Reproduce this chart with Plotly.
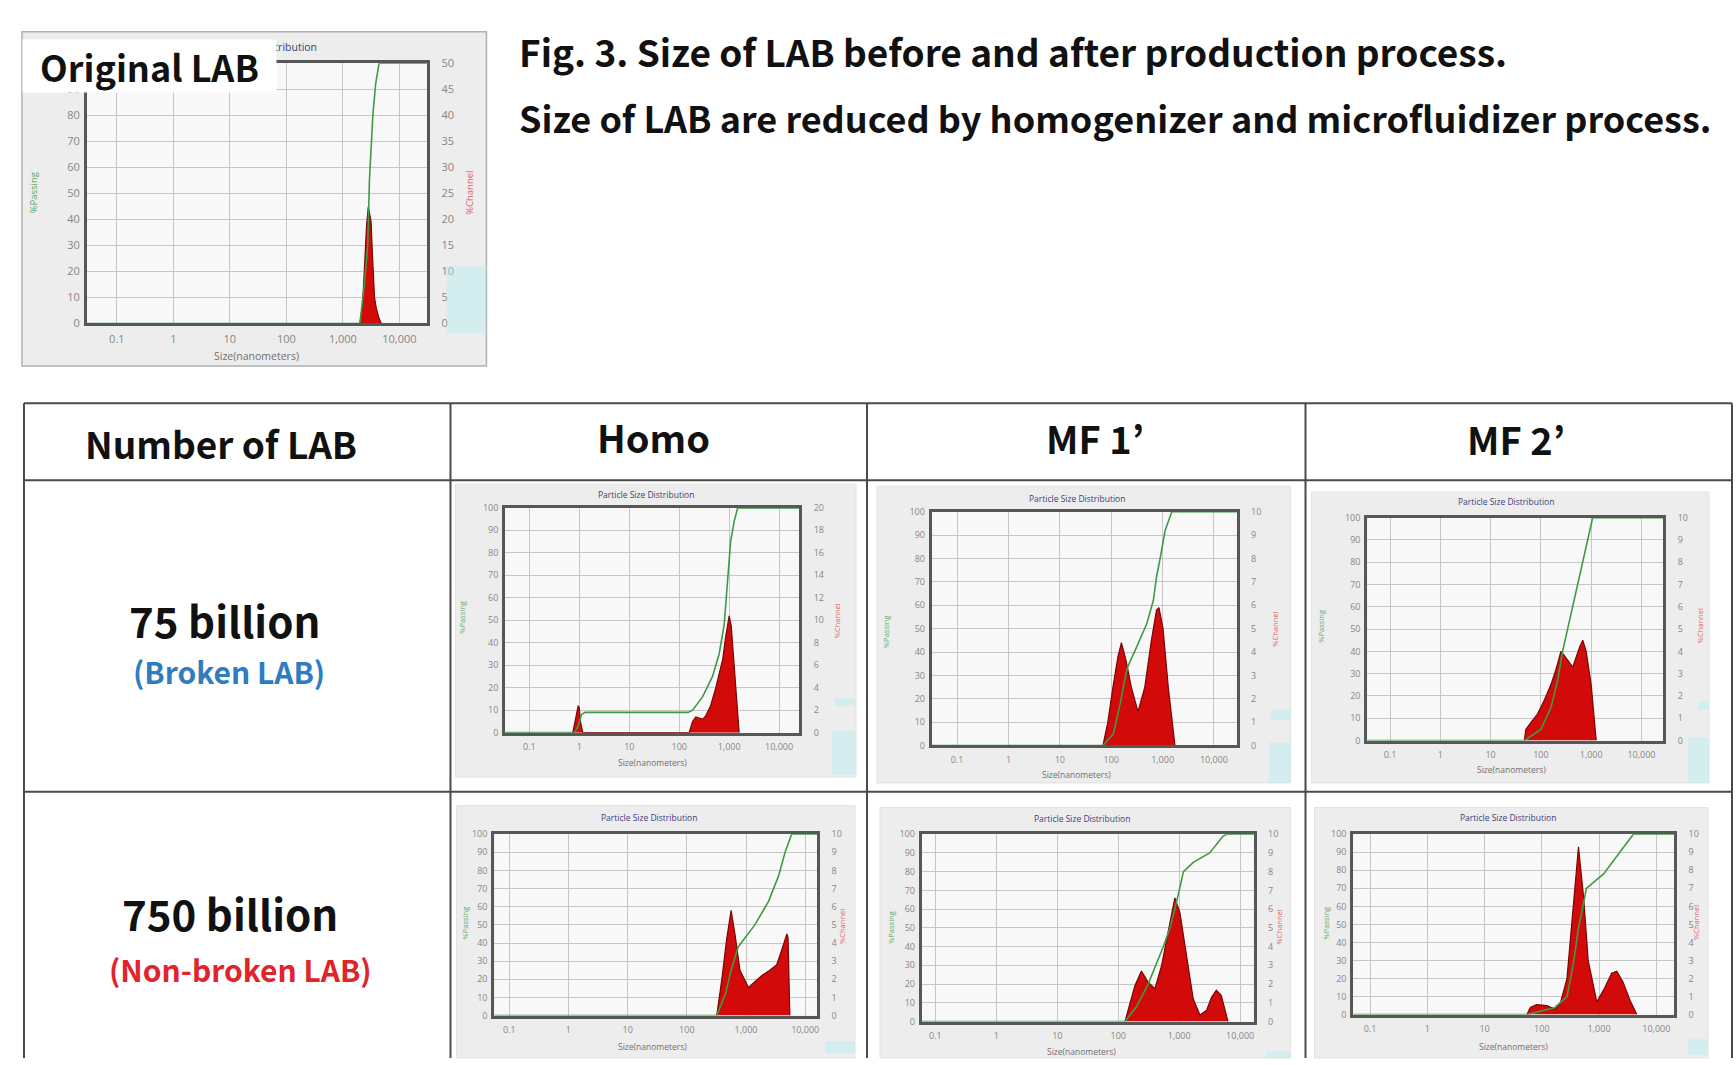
import plotly.graph_objects as go

W, H = 1736, 1065

# ---------------- data ----------------
x_tick_vals = [0.1, 1, 10, 100, 1000, 10000]
x_tick_text = ["0.1", "1", "10", "100", "1,000", "10,000"]
pass_ticks = [0, 10, 20, 30, 40, 50, 60, 70, 80, 90, 100]
chan_ticks_50 = [0, 5, 10, 15, 20, 25, 30, 35, 40, 45, 50]
chan_ticks_20 = [0, 2, 4, 6, 8, 10, 12, 14, 16, 18, 20]
chan_ticks_10 = [0, 1, 2, 3, 4, 5, 6, 7, 8, 9, 10]

col_headers = ["Homo", "MF 1’", "MF 2’"]
row_counts = ["75 billion", "750 billion"]
row_notes = ["(Broken LAB)", "(Non-broken LAB)"]

# Original LAB
orig_chan_nm = [1995, 2190, 2290, 2500, 2630, 2820, 2950, 3160, 3310, 3470, 3630, 3890, 4370, 4790]
orig_chan_pct = [0, 3, 6, 15, 19, 22.4, 21, 19.5, 14, 10, 5, 3, 1, 0]
orig_pass_nm = [0.02, 2000, 2400, 2750, 2950, 3390, 3800, 4370, 50000]
orig_pass_pct = [0, 0, 15, 30, 55, 80, 92, 100, 100]

# 75 billion - Homo
h75_chan_nm = [0.74, 0.85, 0.95, 1.0, 1.05, 1.17, 158, 185, 215, 250, 295, 340, 425, 540, 630, 740, 850, 1000, 1100, 1260, 1410, 1585]
h75_chan_pct = [0, 1.2, 2.4, 2.2, 1.0, 0, 0, 1.0, 1.4, 1.3, 1.2, 1.5, 2.4, 4.0, 5.2, 6.5, 8.5, 10.4, 9.5, 6.0, 3.0, 0]
h75_pass_nm = [0.02, 0.8, 0.95, 1.1, 1.3, 150, 185, 295, 465, 630, 795, 930, 1070, 1260, 1480, 50000]
h75_pass_pct = [0, 0, 3, 8, 9, 9, 10, 16, 25, 35, 48, 66, 85, 94, 100, 100]

# 75 billion - MF 1'
m175_chan_nm = [69, 86, 108, 135, 158, 196, 246, 332, 450, 605, 760, 850, 1020, 1290, 1740]
m175_chan_pct = [0, 1.0, 2.5, 3.8, 4.4, 3.6, 2.5, 1.45, 2.5, 4.5, 5.8, 5.9, 5.0, 2.5, 0]
m175_pass_nm = [0.02, 69, 110, 150, 190, 213, 310, 490, 660, 760, 930, 1120, 1510, 50000]
m175_pass_pct = [0, 0, 5, 18, 30, 34, 42, 52, 62, 72, 82, 92, 100, 100]

# 75 billion - MF 2'
m275_chan_nm = [47, 50, 63, 86, 116, 158, 200, 250, 295, 430, 590, 680, 795, 1000, 1260]
m275_chan_pct = [0, 0.5, 0.8, 1.2, 1.8, 2.5, 3.2, 4.0, 3.8, 3.3, 4.2, 4.5, 4.0, 2.5, 0]
m275_pass_nm = [0.02, 47, 100, 160, 220, 270, 1070, 50000]
m275_pass_pct = [0, 0, 5, 15, 28, 40, 100, 100]

# 750 billion - Homo
h750_chan_nm = [320, 390, 470, 560, 650, 790, 1100, 1420, 1830, 2520, 3300, 4000, 4900, 5130, 5500]
h750_chan_pct = [0, 2.0, 4.2, 5.8, 4.5, 2.5, 1.55, 1.9, 2.2, 2.5, 2.8, 3.6, 4.5, 4.3, 0]
h750_pass_nm = [0.02, 320, 450, 560, 740, 1410, 2400, 3550, 4570, 5890, 50000]
h750_pass_pct = [0, 0, 12, 25, 38, 50, 63, 77, 90, 100, 100]

# 750 billion - MF 1'
m1750_chan_nm = [129, 155, 187, 240, 310, 400, 515, 660, 850, 1030, 1320, 1700, 2190, 2820, 3390, 4070, 4900, 6310]
m1750_chan_pct = [0, 1.0, 1.9, 2.7, 2.1, 1.75, 3.0, 4.8, 6.6, 5.8, 3.5, 1.2, 0.35, 0.6, 1.3, 1.67, 1.4, 0]
m1750_pass_nm = [0.02, 129, 200, 310, 550, 710, 955, 1175, 1700, 3160, 5250, 6030, 50000]
m1750_pass_pct = [0, 0, 8, 20, 40, 50, 67, 80, 85, 90, 99, 100, 100]

# 750 billion - MF 2'
m2750_chan_nm = [55, 63, 81, 123, 170, 209, 275, 355, 437, 537, 646, 912, 1260, 1660, 2040, 2630, 3470, 4570]
m2750_chan_pct = [0, 0.4, 0.55, 0.5, 0.3, 0.6, 2.0, 6.0, 9.3, 6.5, 3.0, 0.7, 1.5, 2.3, 2.4, 1.8, 0.8, 0]
m2750_pass_nm = [0.02, 55, 170, 275, 355, 437, 537, 600, 1200, 1780, 3020, 3980, 50000]
m2750_pass_pct = [0, 0, 4, 10, 28, 48, 62, 70, 78, 85, 95, 100, 100]

# ---------------- layout helpers ----------------
def fx(px):
    return px / W

def fy(py):
    return 1 - py / H

charts = [
    dict(cn=orig_chan_nm, cp=orig_chan_pct, pn=orig_pass_nm, pp=orig_pass_pct,
         rmax=50, rt=chan_ticks_50, frame=(87, 56, 427, 320), xr=(-1.53, 4.48),
         panel=(22, 24, 487, 363), title=(258, 40), xt=(257, 353), yl=(33, 187), yr=(470, 187), fs=11),
    dict(cn=h75_chan_nm, cp=h75_chan_pct, pn=h75_pass_nm, pp=h75_pass_pct,
         rmax=20, rt=chan_ticks_20, frame=(506, 507, 800, 735), xr=(-1.48, 4.4),
         panel=(456, 483, 857, 780), title=(647, 493), xt=(653, 765), yl=(463, 618), yr=(838, 622), fs=9),
    dict(cn=m175_chan_nm, cp=m175_chan_pct, pn=m175_pass_nm, pp=m175_pass_pct,
         rmax=10, rt=chan_ticks_10, frame=(933, 511, 1238, 748), xr=(-1.49, 4.44),
         panel=(878, 485, 1292, 786), title=(1078, 497), xt=(1078, 777), yl=(887, 632), yr=(1277, 630), fs=9),
    dict(cn=m275_chan_nm, cp=m275_chan_pct, pn=m275_pass_nm, pp=m275_pass_pct,
         rmax=10, rt=chan_ticks_10, frame=(1369, 517, 1665, 743), xr=(-1.45, 4.43),
         panel=(1313, 491, 1711, 786), title=(1508, 501), xt=(1513, 772), yl=(1323, 627), yr=(1702, 627), fs=9),
    dict(cn=h750_chan_nm, cp=h750_chan_pct, pn=h750_pass_nm, pp=h750_pass_pct,
         rmax=10, rt=chan_ticks_10, frame=(495, 838, 818, 1022), xr=(-1.25, 4.2),
         panel=(457, 809, 856, 1065), title=(650, 821), xt=(653, 1053), yl=(465, 928), yr=(843, 932), fs=9),
    dict(cn=m1750_chan_nm, cp=m1750_chan_pct, pn=m1750_pass_nm, pp=m1750_pass_pct,
         rmax=10, rt=chan_ticks_10, frame=(923, 838, 1255, 1028), xr=(-1.22, 4.22),
         panel=(881, 811, 1292, 1065), title=(1083, 822), xt=(1083, 1058), yl=(892, 932), yr=(1280, 932), fs=9),
    dict(cn=m2750_chan_nm, cp=m2750_chan_pct, pn=m2750_pass_nm, pp=m2750_pass_pct,
         rmax=10, rt=chan_ticks_10, frame=(1355, 838, 1676, 1021), xr=(-1.29, 4.31),
         panel=(1316, 811, 1710, 1065), title=(1510, 821), xt=(1515, 1053), yl=(1327, 928), yr=(1698, 928), fs=9),
]

fig = go.Figure()
layout = dict(
    width=W, height=H, margin=dict(l=0, r=0, t=0, b=0),
    paper_bgcolor="white", plot_bgcolor="rgba(0,0,0,0)", showlegend=False,
)
shapes = []
annotations = []

FRAME = "#575757"
GRID = "#c6c6c6"
TICKC = "#868686"
TFONT = "Open Sans"


def ann(text, x, y, size, color, family, **kw):
    d = dict(text=text, x=fx(x), y=fy(y), xref="paper", yref="paper", showarrow=False,
             xanchor="center", yanchor="middle", font=dict(family=family, size=size, color=color))
    d.update(kw)
    annotations.append(d)


for i, c in enumerate(charts, start=1):
    x0, y0, x1, y1 = c["frame"]
    px0, py0, px1, py1 = c["panel"]
    xa = "x" if i == 1 else f"x{i}"
    yb_id = 2 * i - 1
    yo_id = 2 * i
    yb = "y" if yb_id == 1 else f"y{yb_id}"
    yo = f"y{yo_id}"
    # chart canvas and plot area backgrounds
    shapes.append(dict(type="rect", xref="paper", yref="paper", layer="below",
                       x0=fx(px0), x1=fx(px1), y0=fy(py1), y1=fy(py0),
                       fillcolor="#ededed",
                       line=dict(color="#b0b0b0" if i == 1 else "#e2e2e2", width=1.5 if i == 1 else 1)))
    shapes.append(dict(type="rect", xref="paper", yref="paper", layer="below",
                       x0=fx(x0), x1=fx(x1), y0=fy(y1), y1=fy(y0),
                       fillcolor="#f8f8f8", line=dict(width=0)))
    # red channel histogram (base axis, right side)
    fig.add_trace(go.Scatter(x=c["cn"], y=c["cp"], mode="lines", fill="tozeroy",
                             fillcolor="#d20a0a", line=dict(color="#7a0505", width=1.2),
                             xaxis=xa, yaxis=yb, hoverinfo="skip"))
    # green cumulative passing curve (overlay axis, left side)
    fig.add_trace(go.Scatter(x=c["pn"], y=c["pp"], mode="lines",
                             line=dict(color="#3f9a45", width=1.6),
                             xaxis=xa, yaxis=yo, hoverinfo="skip"))
    tf = dict(family=TFONT, size=c["fs"], color=TICKC)
    layout["xaxis" if i == 1 else f"xaxis{i}"] = dict(
        domain=[fx(x0), fx(x1)], type="log", range=list(c["xr"]), anchor=yb,
        tickvals=x_tick_vals, ticktext=x_tick_text, showgrid=True, gridcolor=GRID, gridwidth=1,
        showline=True, mirror=True, linecolor=FRAME, linewidth=2.5, ticks="",
        tickfont=tf, zeroline=False, fixedrange=True, ticklabelstandoff=4,
    )
    layout["yaxis" if yb_id == 1 else f"yaxis{yb_id}"] = dict(
        domain=[fy(y1), fy(y0)], range=[0, c["rmax"]], side="right", anchor=xa,
        tickvals=c["rt"], showgrid=True, gridcolor=GRID, gridwidth=1,
        showline=True, mirror=True, linecolor=FRAME, linewidth=2.5, ticks="",
        tickfont=tf, zeroline=False, fixedrange=True, ticklabelstandoff=10,
    )
    layout[f"yaxis{yo_id}"] = dict(
        overlaying=yb, range=[0, 100], side="left", anchor=xa,
        tickvals=pass_ticks, showgrid=False, showline=False, ticks="",
        tickfont=tf, zeroline=False, fixedrange=True, ticklabelstandoff=6,
    )
    sfs = c["fs"] - 0.5
    ann("Particle Size Distribution", c["title"][0], c["title"][1], sfs, "#3a3f7a", TFONT)
    ann("Size(nanometers)", c["xt"][0], c["xt"][1], sfs, "#707070", TFONT)
    ann("%Passing", c["yl"][0], c["yl"][1], sfs - 1, "#59a85e", TFONT, textangle=-90)
    ann("%Channel", c["yr"][0], c["yr"][1], sfs - 1, "#e06060", TFONT, textangle=-90)

# faint cyan watermark remnants seen at the charts' lower right
cyan = [(447, 262, 487, 330), (836, 700, 857, 708), (833, 733, 857, 778), (1272, 712, 1292, 722),
        (1270, 745, 1292, 786), (1700, 703, 1711, 712), (1690, 740, 1711, 786),
        (826, 1048, 856, 1060), (1268, 1058, 1292, 1065), (1690, 1046, 1710, 1062)]
for (a, b, cc, d) in cyan:
    shapes.append(dict(type="rect", xref="paper", yref="paper", layer="above",
                       x0=fx(a), x1=fx(cc), y0=fy(d), y1=fy(b),
                       fillcolor="rgba(175,238,242,0.4)", line=dict(width=0)))

# table grid
TL = "#4a4a4a"
for xv in [24, 451, 868, 1307, 1734]:
    shapes.append(dict(type="line", xref="paper", yref="paper", x0=fx(xv), x1=fx(xv),
                       y0=fy(401), y1=fy(1065), line=dict(color=TL, width=2)))
for yv in [401, 479, 795]:
    shapes.append(dict(type="line", xref="paper", yref="paper", x0=fx(24), x1=fx(1734),
                       y0=fy(yv), y1=fy(yv), line=dict(color=TL, width=2)))

TXT = "Noto Sans CJK KR"
ann("<b>Fig. 3. Size of LAB before and after production process.</b>", 518, 44, 37, "#111", TXT,
    xanchor="left")
ann("<b>Size of LAB are reduced by homogenizer and microfluidizer process.</b>", 518, 111, 36, "#111", TXT,
    xanchor="left")
ann("<b>Number of LAB</b>", 221, 441, 37, "#111", TXT)
for txt, cx, cy in zip(col_headers, [654, 1096, 1518], [435, 436, 437]):
    ann(f"<b>{txt}</b>", cx, cy, 38, "#111", TXT)
for txt, cx, cy in zip(row_counts, [225, 230], [620, 917]):
    ann(f"<b>{txt}</b>", cx, cy, 42, "#111", TXT)
for txt, cx, cy, col in zip(row_notes, [229, 241], [672, 975], ["#2f7cc0", "#e0242a"]):
    ann(f"<b>{txt}</b>", cx, cy, 30, col, TXT)

# "Original LAB" label box (covers the top-left of the first chart)
ann("<b>Original LAB</b>", 22, 31, 36, "#111", TXT, xanchor="left", yanchor="top",
    width=253, height=52, bgcolor="white", borderpad=0, align="center")

layout["shapes"] = shapes
layout["annotations"] = annotations
fig.update_layout(**layout)
fig.write_html(
    "out.html",
    config={"displayModeBar": False},
    post_script="document.body.style.margin='0';document.body.style.overflow='hidden';",
)
